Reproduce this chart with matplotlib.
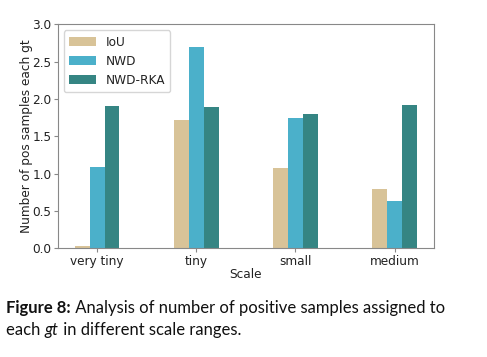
import matplotlib
matplotlib.use("Agg")
import matplotlib.pyplot as plt
import numpy as np

categories = ["very tiny", "tiny", "small", "medium"]
series_names = ["IoU", "NWD", "NWD-RKA"]
iou = [0.03, 1.72, 1.07, 0.79]
nwd = [1.09, 2.70, 1.745, 0.63]
nwd_rka = [1.91, 1.89, 1.80, 1.92]
colors = ["#d8c398", "#4bb0ca", "#358583"]
yticks = [0.0, 0.5, 1.0, 1.5, 2.0, 2.5, 3.0]

plt.rcParams["font.family"] = ["DejaVu Sans"]

fig = plt.figure(figsize=(4.87, 3.57), dpi=100)
ax = fig.add_axes([0.1185, 0.3045, 0.7725, 0.6275])

x = np.arange(len(categories))
w = 0.15
for i, (vals, name, c) in enumerate(zip([iou, nwd, nwd_rka], series_names, colors)):
    ax.bar(x + (i - 1) * w, vals, width=w, color=c, label=name)

fs = 8.7
ax.set_xticks(x)
ax.set_xticklabels(categories)
ax.set_yticks(yticks)
ax.set_ylim(0, 3.0)
ax.tick_params(labelsize=fs, colors="#222222", length=3, pad=1.5)
ax.tick_params(axis="both", color="#888888")
for s in ax.spines.values():
    s.set_color("#888888")
ax.set_xlabel("Scale", fontsize=fs, color="#222222", labelpad=0)
ax.set_ylabel("Number of pos samples each gt", fontsize=fs, color="#222222", labelpad=-0.5)
leg = ax.legend(loc="upper left", fontsize=fs, frameon=True, labelspacing=0.5,
                handlelength=2.2, borderpad=0.45)
for t in leg.get_texts():
    t.set_color("#222222")

# caption, built from pieces so the bold and italic parts join naturally
cap_fs = 12.0
cap_color = "#111111"
x0 = 0.013
y1 = 0.123
y2 = 0.0616
fig.canvas.draw()
renderer = fig.canvas.get_renderer()

def put(xf, yf, s, **kw):
    t = fig.text(xf, yf, s, fontsize=cap_fs, color=cap_color, va="baseline",
                 family="Lato", **kw)
    bb = t.get_window_extent(renderer=renderer)
    return (bb.x1) / fig.bbox.width

xe = put(x0, y1, "Figure 8:", weight="bold")
put(xe, y1, " Analysis of number of positive samples assigned to")
xe = put(x0, y2, "each ")
xe = put(xe, y2, "gt", style="italic")
put(xe, y2, " in different scale ranges.")

fig.savefig("out.png", dpi=100)
